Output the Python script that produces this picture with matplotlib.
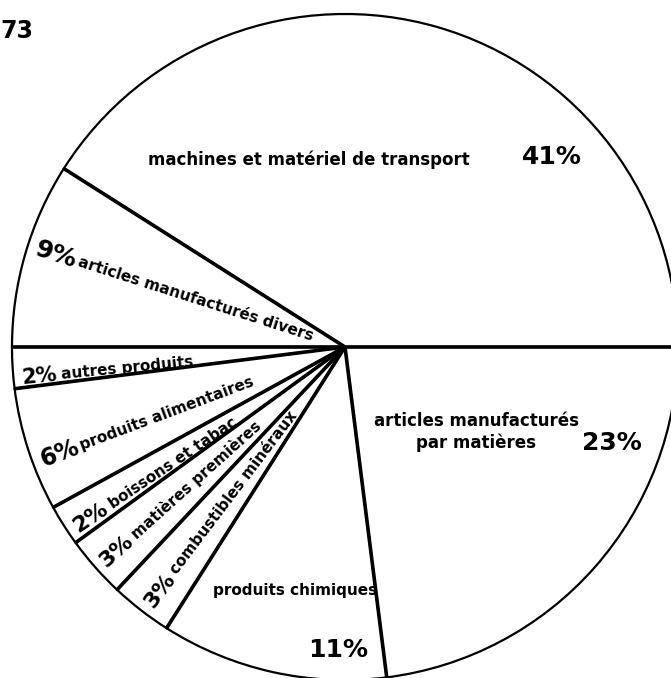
import numpy as np
import matplotlib
matplotlib.use("Agg")
import matplotlib.pyplot as plt

# shares (%), counter-clockwise from 3 o'clock
labels = ["machines et matériel de transport", "articles manufacturés divers",
          "autres produits", "produits alimentaires", "boissons et tabac",
          "matières premières", "combustibles minéraux", "produits chimiques",
          "articles manufacturés\npar matières"]
shares = [41, 9, 2, 6, 2, 3, 3, 11, 23]
year_label = "73"

# slices whose labels run along the radius
radial = [1, 2, 3, 4, 5, 6]
radial_pct_size = {1: 18, 2: 15, 3: 17, 4: 16, 5: 16, 6: 16}
radial_angle_shift = {1: -1.5, 2: 1.9, 3: 2.5, 4: 1.5, 5: 0.4, 6: 0.6}
radial_label_start = {1: 280, 2: 285, 3: 283, 4: 283, 5: 283, 6: 283}

plt.rcParams['font.family'] = ['DejaVu Sans']

fig = plt.figure(figsize=(6.71, 6.78), dpi=100)
ax = fig.add_axes([0, 0, 1, 1])

cx, cy, R = 345, 331, 333
ax.pie(shares, startangle=0, counterclock=True, center=(cx, cy), radius=R,
       colors=['white'] * len(shares),
       wedgeprops=dict(edgecolor='black', linewidth=1.6))
ax.set_xlim(0, 671)
ax.set_ylim(0, 678)
ax.set_aspect('equal')
ax.axis('off')

# heavier radial separators
bounds = np.concatenate([[0], np.cumsum(shares)]) * 3.6
for a in bounds[:-1]:
    t = np.radians(a)
    ax.plot([cx, cx + R * np.cos(t)], [cy, cy + R * np.sin(t)],
            color='black', lw=2.6, solid_capstyle='butt')

# radial labels
for i in radial:
    mid = (bounds[i] + bounds[i + 1]) / 2 + radial_angle_shift[i]
    t = np.radians(mid)
    rot = mid - 180
    r1, r2 = 325, radial_label_start[i]
    ax.text(cx + r1 * np.cos(t), cy + r1 * np.sin(t), f"{shares[i]}%",
            rotation=rot, rotation_mode='anchor', ha='left', va='center',
            fontsize=radial_pct_size[i], fontweight='bold')
    ax.text(cx + r2 * np.cos(t), cy + r2 * np.sin(t), labels[i],
            rotation=rot, rotation_mode='anchor', ha='left', va='center',
            fontsize=11, fontweight='bold')

# horizontal labels
ax.text(309, 518, labels[0], ha='center', va='center', fontsize=12, fontweight='bold')
ax.text(552, 521, f"{shares[0]}%", ha='center', va='center', fontsize=18, fontweight='bold')
ax.text(476, 246, labels[8], ha='center', va='center', fontsize=12,
        fontweight='bold', linespacing=1.3)
ax.text(612, 235, f"{shares[8]}%", ha='center', va='center', fontsize=18, fontweight='bold')
ax.text(295, 88, labels[7], ha='center', va='center', fontsize=11, fontweight='bold')
ax.text(338, 28, f"{shares[7]}%", ha='center', va='center', fontsize=18, fontweight='bold')

ax.text(0, 647, year_label, ha='left', va='center', fontsize=17, fontweight='bold')

fig.savefig("out.png", dpi=100, facecolor='white')
